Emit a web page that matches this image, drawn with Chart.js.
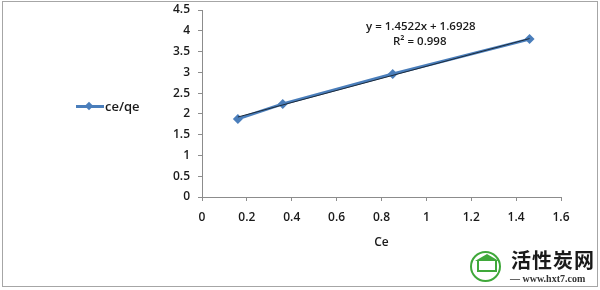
<!DOCTYPE html>
<html>
<head>
<meta charset="utf-8">
<script src="https://cdn.jsdelivr.net/npm/chart.js"></script>
<style>
  body { margin: 0; background: #ffffff; }
  #wrap { position: relative; width: 600px; height: 290px; }
  #frame {
    position: absolute; left: 2px; top: 1px; width: 594px; height: 284px;
    border: 1.5px solid #a6a6a6;
  }
  #myChart { position: absolute; left: 0; top: 0; }
  .txt { position: absolute; font-family: 'Open Sans', sans-serif; font-weight: 600; color: #1a1a1a; white-space: nowrap; }
  #eq1 { left: 366px; top: 18px; font-size: 11.5px; }
  #eq2 { left: 393px; top: 33px; font-size: 11.5px; }
  #legend { position: absolute; left: 76px; top: 97px; height: 18px; }
  #legline { position: absolute; left: 0; top: 8px; width: 28px; height: 3px; background: #4a7ebb; }
  #legdia { position: absolute; left: 10px; top: 6px; width: 6px; height: 6px; background: #4a7ebb; transform: rotate(45deg); }
  #legtxt { left: 29px; top: 0px; font-size: 13px; }
  #mark { position: absolute; left: 466px; top: 246px; width: 131px; height: 40px; background: #fff; }
  #logo { position: absolute; left: 4px; top: 5px; width: 27px; height: 27px; border: 2px solid #3fa83a; border-radius: 50%; }
  #house { position: absolute; left: 11px; top: 14px; width: 16px; height: 10px; border: 2px solid #3fa83a; border-top: none; }
  #roof { position: absolute; left: 9px; top: 8px; width: 0; height: 0; border-left: 12px solid transparent; border-right: 12px solid transparent; border-bottom: 7px solid #3fa83a; }
  #cn { position: absolute; left: 45px; top: 2px; font-family: 'Noto Sans CJK SC', sans-serif; font-weight: 700; font-size: 20px; line-height: 24px; color: #1a1a1a; letter-spacing: 1px; }
  #url { position: absolute; left: 44px; top: 27px; font-family: 'Liberation Serif', serif; font-weight: 700; font-size: 10px; line-height: 12px; color: #333; }
</style>
</head>
<body>
<div id="wrap">
  <canvas id="myChart" width="600" height="290"></canvas>
  <div id="frame"></div>
  <div class="txt" id="eq1">y = 1.4522x + 1.6928</div>
  <div class="txt" id="eq2">R² = 0.998</div>
  <div id="legend">
    <div id="legline"></div>
    <div id="legdia"></div>
    <div class="txt" id="legtxt">ce/qe</div>
  </div>
  <div id="mark">
    <div id="logo"></div>
    <div id="roof"></div>
    <div id="house"></div>
    <div id="cn">活性炭网</div>
    <div id="url">— www.hxt7.com —</div>
  </div>
</div>
<script>
  // values
  const ce = [0.16, 0.36, 0.85, 1.46];
  const ceqe = [1.88, 2.24, 2.96, 3.8];
  // linear trendline end points (y = 1.4522x + 1.6928)
  const trendX = [0.16, 1.46];
  const trendY = [1.925, 3.813];
  const xTicks = [0, 0.2, 0.4, 0.6, 0.8, 1, 1.2, 1.4, 1.6];
  const yTicks = [0, 0.5, 1, 1.5, 2, 2.5, 3, 3.5, 4, 4.5];

  const tickFont = { family: 'Open Sans', size: 12, weight: '600' };

  var data = {
    datasets: [{
      label: 'ce/qe',
      data: ce.map((x, i) => ({ x: x, y: ceqe[i] })),
      borderColor: '#4a7ebb',
      backgroundColor: '#4a7ebb',
      borderWidth: 3,
      pointStyle: 'rectRot',
      pointRadius: 5,
      pointBorderWidth: 0,
      showLine: true,
      order: 2
    }, {
      label: 'trend',
      data: trendX.map((x, i) => ({ x: x, y: trendY[i] })),
      borderColor: '#1c2a3a',
      borderWidth: 1,
      pointRadius: 0,
      showLine: true,
      order: 1
    }]
  };

  var config = {
    type: 'scatter',
    data: data,
    options: {
      responsive: false,
      animation: false,
      layout: { padding: { left: 159, right: 39, top: 10, bottom: 40 } },
      plugins: { legend: { display: false }, tooltip: { enabled: false } },
      scales: {
        x: {
          type: 'linear', min: 0, max: 1.6,
          afterBuildTicks: s => { s.ticks = xTicks.map(v => ({ value: v })); },
          afterFit: s => { s.height = 53; },
          border: { color: '#8c8c8c', width: 1 },
          grid: { drawOnChartArea: false, color: '#8c8c8c', tickLength: 4 },
          ticks: { color: '#1a1a1a', font: tickFont, padding: 9, maxRotation: 0, callback: v => String(v) },
          title: { display: true, text: 'Ce', color: '#1a1a1a', font: tickFont, padding: { top: 4, bottom: 0 } }
        },
        y: {
          type: 'linear', min: 0, max: 4.5,
          afterBuildTicks: s => { s.ticks = yTicks.map(v => ({ value: v })); },
          afterFit: s => { s.width = 43; s.paddingTop = 0; s.paddingBottom = 0; },
          border: { color: '#8c8c8c', width: 1 },
          grid: { drawOnChartArea: false, color: '#8c8c8c', tickLength: 4 },
          ticks: { color: '#1a1a1a', font: tickFont, padding: 8, callback: v => String(v) }
        }
      }
    }
  };

  myChart = new Chart(document.getElementById('myChart'), config);
</script>
</body>
</html>
